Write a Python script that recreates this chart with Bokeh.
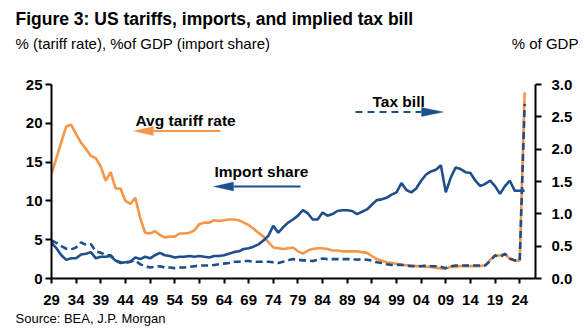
from bokeh.plotting import figure
from bokeh.models import (Range1d, LinearAxis, FixedTicker, Label, Arrow, PolyAnnotation,
                          PrintfTickFormatter, Title)
from bokeh.embed import file_html
from bokeh.resources import INLINE

# ---------------- data ----------------
years = list(range(1929, 2026))

tariff_rate = (
    [13.5]
    + [15.5, 17.6, 19.6, 19.8, 18.6, 17.5, 16.7, 15.8, 15.5, 14.4]
    + [12.6, 13.7, 11.6, 11.6, 10.0, 9.6, 10.4, 7.8, 5.9, 5.8]
    + [6.1, 5.6, 5.3, 5.4, 5.4, 5.8, 5.8, 5.9, 6.2, 7.0]
    + [7.2, 7.2, 7.5, 7.4, 7.5, 7.6, 7.6, 7.5, 7.2, 6.9]
    + [6.4, 5.9, 5.4, 4.7, 4.0, 3.9, 3.8, 3.9, 4.0, 3.5]
    + [3.2, 3.6, 3.8, 3.9, 3.9, 3.8, 3.6, 3.6, 3.5, 3.5]
    + [3.5, 3.5, 3.4, 3.3, 2.9, 2.5, 2.3, 2.1, 2.0, 1.9]
    + [1.8, 1.7, 1.7, 1.6, 1.6, 1.5, 1.5, 1.4, 1.3, 1.3]
    + [1.5, 1.5, 1.6, 1.6, 1.6, 1.6, 1.6, 1.7, 2.4, 2.9]
    + [3.0, 3.2, 2.5, 2.3, 2.3, 24.0]
)

import_share = (
    [4.6]
    + [3.9, 3.0, 2.4, 2.6, 2.6, 3.1, 3.2, 3.4, 2.6, 2.8]
    + [2.8, 2.9, 2.3, 2.0, 2.1, 2.2, 2.7, 2.5, 2.8, 2.6]
    + [3.0, 3.3, 3.0, 2.9, 2.7, 2.8, 2.8, 2.9, 2.8, 2.9]
    + [2.8, 2.7, 2.9, 2.9, 3.0, 3.2, 3.4, 3.5, 3.8, 3.9]
    + [4.1, 4.4, 4.9, 5.5, 6.8, 5.9, 6.6, 7.2, 7.6, 8.1]
    + [8.8, 8.4, 7.6, 7.6, 8.5, 8.1, 8.3, 8.7, 8.8, 8.8]
    + [8.7, 8.3, 8.6, 8.9, 9.5, 10.1, 10.2, 10.4, 10.8, 11.1]
    + [12.3, 11.4, 11.1, 11.6, 12.6, 13.4, 13.8, 14.0, 14.6, 11.1]
    + [13.0, 14.3, 14.1, 13.7, 13.6, 12.6, 11.9, 12.2, 12.6, 11.9]
    + [10.9, 11.9, 12.6, 11.3, 11.3, 11.3]
)

tax_bill = (
    [0.59]
    + [0.55, 0.50, 0.46, 0.45, 0.48, 0.56, 0.52, 0.53, 0.42, 0.40]
    + [0.36, 0.36, 0.28, 0.25, 0.24, 0.26, 0.28, 0.22, 0.19, 0.17]
    + [0.18, 0.19, 0.17, 0.17, 0.16, 0.17, 0.17, 0.18, 0.19, 0.20]
    + [0.20, 0.20, 0.21, 0.22, 0.23, 0.24, 0.26, 0.26, 0.27, 0.27]
    + [0.26, 0.26, 0.26, 0.26, 0.25, 0.24, 0.26, 0.28, 0.30, 0.29]
    + [0.28, 0.28, 0.27, 0.29, 0.31, 0.30, 0.30, 0.30, 0.30, 0.30]
    + [0.30, 0.29, 0.30, 0.29, 0.28, 0.25, 0.24, 0.22, 0.21, 0.21]
    + [0.21, 0.20, 0.19, 0.19, 0.19, 0.20, 0.19, 0.19, 0.18, 0.16]
    + [0.19, 0.20, 0.20, 0.20, 0.20, 0.20, 0.20, 0.20, 0.27, 0.36]
    + [0.33, 0.38, 0.31, 0.28, 0.28, 2.70]
)

x_ticks = list(range(1929, 2025, 5))
x_tick_labels = {t: "%02d" % (t % 100) for t in x_ticks}
left_ticks = [0, 5, 10, 15, 20, 25]
right_ticks = [0.0, 0.5, 1.0, 1.5, 2.0, 2.5, 3.0]

title_text = "Figure 3: US tariffs, imports, and implied tax bill"
left_unit_text = "% (tariff rate), %of GDP (import share)"
right_unit_text = "% of GDP"
source_text = "Source: BEA, J.P. Morgan"

# ---------------- style ----------------
FONT = "'Liberation Sans', Arial, sans-serif"
ORANGE = "#F79646"
BLUE = "#1F4E8C"
W, H = 584, 335
FL, FR, FT, FB = 51, 535, 84, 278       # frame edges on the page
X0, X1 = 1929, 2027.2
Y0, Y1 = 0, 25


def dx(cx):
    return X0 + (cx - FL) * (X1 - X0) / (FR - FL)


def dy(cy):
    return Y0 + (FB - cy) * (Y1 - Y0) / (FB - FT)


p = figure(width=W, height=H, output_backend="svg", toolbar_location=None,
           x_range=Range1d(X0, X1), y_range=Range1d(Y0, Y1),
           min_border_left=FL, min_border_right=W - FR,
           min_border_top=FT, min_border_bottom=H - FB)
p.extra_y_ranges = {"gdp": Range1d(0, 3)}
p.grid.visible = False
p.outline_line_color = None
p.background_fill_color = "white"
p.border_fill_color = "white"

p.line(years, tariff_rate, line_color=ORANGE, line_width=2.6)
p.line(years, import_share, line_color=BLUE, line_width=2.6)
p.line(years, tax_bill, line_color=BLUE, line_width=2.6, line_dash="7 4",
       y_range_name="gdp")


def style_axis(ax):
    ax.axis_line_color = "black"
    ax.axis_line_width = 2
    ax.major_tick_line_color = "black"
    ax.major_tick_line_width = 2
    ax.minor_tick_line_color = None
    ax.major_tick_in = 0
    ax.major_label_text_font = FONT
    ax.major_label_text_font_style = "bold"
    ax.major_label_text_font_size = "15px"
    ax.major_label_text_color = "black"


xa = p.xaxis[0]
style_axis(xa)
xa.ticker = FixedTicker(ticks=x_ticks)
xa.major_label_overrides = x_tick_labels
xa.major_tick_out = 5
xa.major_label_standoff = 11

ya = p.yaxis[0]
style_axis(ya)
ya.ticker = FixedTicker(ticks=left_ticks)
ya.major_tick_out = 6
ya.major_label_standoff = 3

ra = LinearAxis(y_range_name="gdp", ticker=FixedTicker(ticks=right_ticks),
                formatter=PrintfTickFormatter(format="%.1f"))
style_axis(ra)
ra.major_tick_out = 6
ra.major_label_standoff = 10
p.add_layout(ra, "right")

# header / footer texts as titles (side panels are not clipped to the frame)
NBSP = "\u00a0"
# blank spacer between the unit line and the plot frame
p.add_layout(Title(text=NBSP, text_font=FONT, text_font_size="10px", standoff=19), "above")
sub_line = left_unit_text + NBSP * 58 + right_unit_text
p.add_layout(Title(text=sub_line, align="left", offset=15 - FL, text_font=FONT,
                   text_font_size="15px", text_font_style="normal", text_color="black",
                   standoff=2), "above")
p.add_layout(Title(text=title_text, align="left", offset=15 - FL, text_font=FONT,
                   text_font_size="17.5px", text_font_style="bold", text_color="black",
                   standoff=6), "above")
p.add_layout(Title(text=source_text, align="left", offset=15 - FL, text_font=FONT,
                   text_font_size="13px", text_font_style="normal", text_color="black",
                   standoff=2), "below")


def text(t, cx, cy, size):
    p.add_layout(Label(x=dx(cx), y=dy(cy), text=t, text_font=FONT, text_font_size=size,
                       text_font_style="bold", text_align="left",
                       text_baseline="alphabetic", text_color="black"))


text("Avg tariff rate", 135, 120, "15.5px")
text("Import share", 214, 171, "15.5px")
text("Tax bill", 372, 101, "15.5px")


def arrow(x_tail, x_tip, cy, color, dash="solid"):
    base = x_tip + (20 if x_tip < x_tail else -22)
    p.add_layout(Arrow(end=None, x_start=dx(x_tail), y_start=dy(cy),
                       x_end=dx(base), y_end=dy(cy),
                       line_color=color, line_width=2.2, line_dash=dash))
    p.add_layout(PolyAnnotation(xs=[dx(x_tip), dx(base), dx(base)],
                                ys=[dy(cy), dy(cy - 4.5), dy(cy + 4.5)],
                                fill_color=color, fill_alpha=1.0, line_color=color,
                                line_width=1))


arrow(220, 133, 130.5, ORANGE)
arrow(300, 213, 186, BLUE)
arrow(355, 443, 111.5, BLUE, dash="7 5")

open("out.html", "w").write(file_html(p, INLINE))
